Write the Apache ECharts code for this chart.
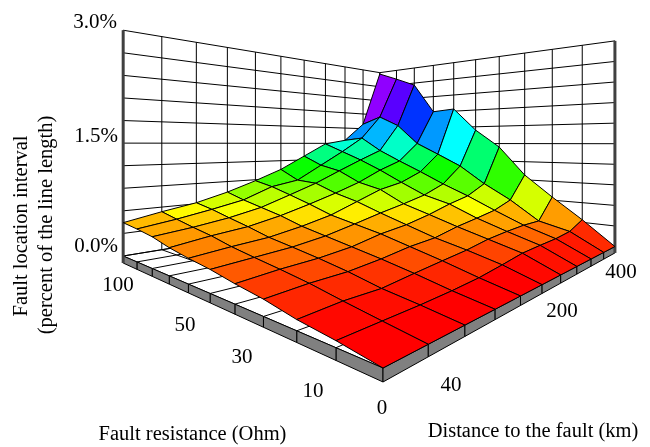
<!DOCTYPE html>
<html><head><meta charset="utf-8">
<style>html,body{margin:0;padding:0;background:#fff}#c{width:650px;height:447px}</style>
<script src="https://cdn.jsdelivr.net/npm/echarts@6/dist/echarts.min.js"></script>
</head><body><div id="c"></div>
<script>
// ---- data: fault location interval (%), one list per distance step, resistance steps 0..10
const d0  = [0,.052,.09,.15,.19,.24,.275,.318,.38,.416,.443];
const d1  = [0,.056,.114,.177,.226,.27,.317,.38,.427,.48,.535];
const d2  = [0,.059,.11,.186,.247,.30,.35,.425,.49,.56,.615];
const d3  = [0,.07,.152,.225,.29,.355,.42,.51,.58,.65,.735];
const d4  = [0,.09,.19,.28,.37,.44,.51,.62,.72,.815,.884];
const d5  = [0,.13,.226,.31,.42,.53,.65,.74,.864,.89,1.05];
const d6  = [0,.175,.28,.385,.50,.61,.79,.875,1.04,1.12,1.27];
const d7  = [0,.19,.31,.44,.60,.70,.87,1.05,1.21,1.35,1.49];
const d8  = [0,.20,.33,.50,.68,.84,1.02,1.19,1.37,1.60,1.56];
const d9  = [0,.23,.33,.61,.84,1.115,1.31,1.50,1.84,2.02,1.89];
const d10 = [0,.34,.65,.98,1.44,1.74,2.14,2.11,2.66,2.82,2.97];
const heights = [d0,d1,d2,d3,d4,d5,d6,d7,d8,d9,d10];
const zTicks = ['0.0%','1.5%','3.0%'];
const resistanceTicks = ['0','10','30','50','100'];
const distanceTicks = ['40','200','400'];

// ---- colour scale: level (%) -> hue
const hueLevels = [.06,.12,.186,.275,.376,.47,.55,.64,.77,.91,1.08,1.31,1.5,1.77,2.03,2.34,2.43,3];
const hueValues = [0,8,14,27,36,44,60,70,85,105,118,150,170,205,228,262,275,300];

// ---- perspective projection of (distance step, resistance step, level %)
const P = {a:96,b:-13.8,c:383,e:17.04,f:14.12,g:368,p:.1184,q:.0989,k:149.7};
function proj(d,r,z){
  const w = 1+P.p*d+P.q*r;
  return [(P.c+P.a*d+P.b*r)/w,(P.g+P.e*d+P.f*r-P.k*z)/w];
}
const N = 10, ZMAX = 3, ZDIV = 10, BASE = -0.0935;
function hue(z){
  if(z<=hueLevels[0]) return 0;
  for(let i=1;i<hueLevels.length;i++){
    if(z<=hueLevels[i]){
      const t=(z-hueLevels[i-1])/(hueLevels[i]-hueLevels[i-1]);
      return hueValues[i-1]+t*(hueValues[i]-hueValues[i-1]);
    }
  }
  return 300;
}
function poly(api,pts,style){
  return {type:'polygon',shape:{points:pts.map(p=>api.coord(p))},style};
}
function seg(api,a,b,s){
  const A=api.coord(a),B=api.coord(b);
  return {type:'line',shape:{x1:A[0],y1:A[1],x2:B[0],y2:B[1]},style:s||{stroke:'#000',lineWidth:1}};
}
// frame: walls, floor and base
function renderFrame(params,api){
  const ch=[];
  for(let i=0;i<=N;i++){
    ch.push(seg(api,proj(i,N,0),proj(i,N,ZMAX)));
    ch.push(seg(api,proj(N,i,0),proj(N,i,ZMAX)));
    ch.push(seg(api,proj(i,0,0),proj(i,N,0)));
    ch.push(seg(api,proj(0,i,0),proj(N,i,0)));
  }
  for(let j=0;j<=ZDIV;j++){
    const z=ZMAX*j/ZDIV;
    ch.push(seg(api,proj(0,N,z),proj(N,N,z)));
    ch.push(seg(api,proj(N,N,z),proj(N,0,z)));
  }
  for(let i=0;i<N;i++){
    ch.push(poly(api,[proj(0,i,0),proj(0,i+1,0),proj(0,i+1,BASE),proj(0,i,BASE)],{fill:'#808080',stroke:'#000',lineWidth:1}));
    ch.push(poly(api,[proj(i,0,0),proj(i+1,0,0),proj(i+1,0,BASE),proj(i,0,BASE)],{fill:'#808080',stroke:'#000',lineWidth:1}));
  }
  const bar={stroke:'#404040',lineWidth:3};
  ch.push(seg(api,proj(0,N,BASE),proj(0,N,ZMAX),bar));
  ch.push(seg(api,proj(N,0,BASE),proj(N,0,ZMAX),bar));
  return {type:'group',children:ch};
}
// surface cells, far ones first
const cells=[];
for(let d=N-1;d>=0;d--) for(let r=N-1;r>=0;r--) cells.push([d,r]);
function renderCell(params,api){
  const d=api.value(0), r=api.value(1);
  const v=[[d,r],[d+1,r],[d+1,r+1],[d,r+1]];
  const m=v.reduce((s,q)=>s+heights[q[0]][q[1]],0)/4;
  return poly(api,v.map(q=>proj(q[0],q[1],heights[q[0]][q[1]])),
    {fill:'hsl('+hue(m).toFixed(0)+',100%,50%)',stroke:'#000',lineWidth:1});
}
const FONT='"Liberation Serif","Times New Roman",serif';
function label(text,x,y,size,rot){
  return {type:'text',x:x,y:y,rotation:rot||0,style:{text:text,fill:'#000',font:size+'px '+FONT,align:'center',verticalAlign:'middle'}};
}
const chart=echarts.init(document.getElementById('c'),null,{renderer:'canvas'});
chart.setOption({
  animation:false,
  backgroundColor:'#fff',
  grid:{left:0,top:0,width:650,height:447},
  xAxis:{type:'value',min:0,max:650,show:false},
  yAxis:{type:'value',min:0,max:447,inverse:true,show:false},
  series:[
    {type:'custom',coordinateSystem:'cartesian2d',silent:true,clip:false,renderItem:renderFrame,data:[[0,0]],z:1},
    {type:'custom',coordinateSystem:'cartesian2d',silent:true,clip:false,renderItem:renderCell,data:cells,z:2,encode:{x:0,y:1}}
  ],
  graphic:[
    label(zTicks[2],95,22,21),label(zTicks[1],96,136,21),label(zTicks[0],96,246,21),
    label(resistanceTicks[4],118,285,21),label(resistanceTicks[3],185,325,21),label(resistanceTicks[2],242,357,21),
    label(resistanceTicks[1],313,391,21),label(resistanceTicks[0],382,408,21),
    label(distanceTicks[0],451,385,21),label(distanceTicks[1],562,311,21),label(distanceTicks[2],621,272,21),
    label('Fault location interval',22,226,20.5,Math.PI/2),
    label('(percent of the line length)',47,225,20.5,Math.PI/2),
    label('Fault resistance (Ohm)',192.5,435,20.5),
    label('Distance to the fault (km)',533,432,20.5)
  ]
});
</script></body></html>
